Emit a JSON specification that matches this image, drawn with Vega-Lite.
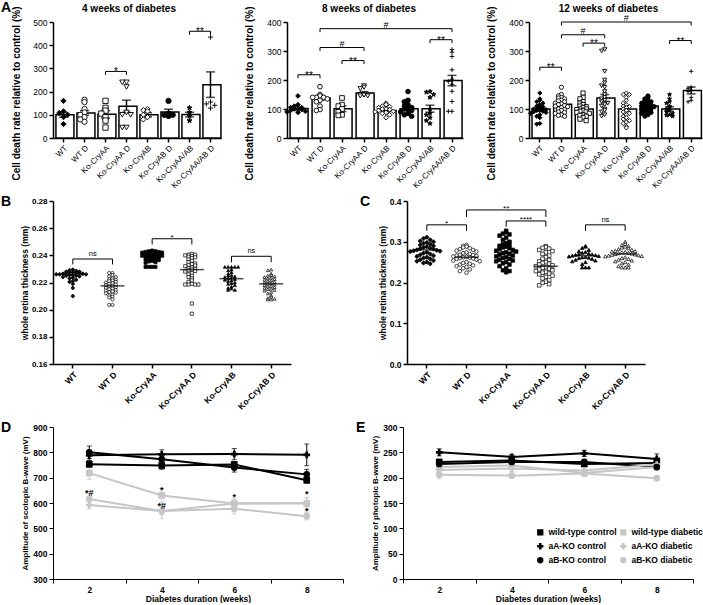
{
"$schema":"https://vega.github.io/schema/vega-lite/v6.json",
"padding":{"left":1,"top":1,"right":0,"bottom":0},
"config":{
 "font":"Liberation Sans",
 "view":{"stroke":null},
 "axis":{"grid":false,"domainColor":"black","tickColor":"black","labelColor":"black","titleColor":"black","labelFont":"Liberation Sans","titleFont":"Liberation Sans","titleFontWeight":"bold","labelOverlap":false},
 "title":{"font":"Liberation Sans","color":"black"},
 "legend":{"labelFont":"Liberation Sans"},
 "text":{"font":"Liberation Sans","color":"black"}
},
"datasets":{
"aBars":[
{"p":"4","g":"WT","m":100,"s":10},{"p":"4","g":"WT D","m":108,"s":10},{"p":"4","g":"Ko-CryAA","m":102,"s":16},{"p":"4","g":"Ko-CryAA D","m":137,"s":26},{"p":"4","g":"Ko-CryAB","m":100,"s":9},{"p":"4","g":"Ko-CryAB D","m":112,"s":12},{"p":"4","g":"Ko-CryAA/AB","m":101,"s":10},{"p":"4","g":"Ko-CryAA/AB D","m":230,"s":55},
{"p":"8","g":"WT","m":102,"s":5},{"p":"8","g":"WT D","m":138,"s":8},{"p":"8","g":"Ko-CryAA","m":101,"s":10},{"p":"8","g":"Ko-CryAA D","m":155,"s":5},{"p":"8","g":"Ko-CryAB","m":95,"s":5},{"p":"8","g":"Ko-CryAB D","m":101,"s":6},{"p":"8","g":"Ko-CryAA/AB","m":101,"s":12},{"p":"8","g":"Ko-CryAA/AB D","m":198,"s":18},
{"p":"12","g":"WT","m":100,"s":6},{"p":"12","g":"WT D","m":116,"s":5},{"p":"12","g":"Ko-CryAA","m":100,"s":5},{"p":"12","g":"Ko-CryAA D","m":138,"s":12},{"p":"12","g":"Ko-CryAB","m":100,"s":8},{"p":"12","g":"Ko-CryAB D","m":110,"s":5},{"p":"12","g":"Ko-CryAA/AB","m":100,"s":8},{"p":"12","g":"Ko-CryAA/AB D","m":164,"s":12}
],
"aPts":[
{"p":"4","g":"WT","v":160},{"p":"4","g":"WT","v":115},{"p":"4","g":"WT","v":108},{"p":"4","g":"WT","v":100},{"p":"4","g":"WT","v":90},{"p":"4","g":"WT","v":60},
{"p":"4","g":"WT D","v":165},{"p":"4","g":"WT D","v":155},{"p":"4","g":"WT D","v":125},{"p":"4","g":"WT D","v":110},{"p":"4","g":"WT D","v":100},{"p":"4","g":"WT D","v":90},{"p":"4","g":"WT D","v":80},{"p":"4","g":"WT D","v":70},
{"p":"4","g":"Ko-CryAA","v":160},{"p":"4","g":"Ko-CryAA","v":130},{"p":"4","g":"Ko-CryAA","v":118},{"p":"4","g":"Ko-CryAA","v":105},{"p":"4","g":"Ko-CryAA","v":90},{"p":"4","g":"Ko-CryAA","v":75},{"p":"4","g":"Ko-CryAA","v":45},
{"p":"4","g":"Ko-CryAA D","v":240},{"p":"4","g":"Ko-CryAA D","v":240},{"p":"4","g":"Ko-CryAA D","v":220},{"p":"4","g":"Ko-CryAA D","v":110},{"p":"4","g":"Ko-CryAA D","v":100},{"p":"4","g":"Ko-CryAA D","v":100},{"p":"4","g":"Ko-CryAA D","v":45},{"p":"4","g":"Ko-CryAA D","v":45},
{"p":"4","g":"Ko-CryAB","v":125},{"p":"4","g":"Ko-CryAB","v":120},{"p":"4","g":"Ko-CryAB","v":115},{"p":"4","g":"Ko-CryAB","v":100},{"p":"4","g":"Ko-CryAB","v":90},{"p":"4","g":"Ko-CryAB","v":80},
{"p":"4","g":"Ko-CryAB D","v":160},{"p":"4","g":"Ko-CryAB D","v":105},{"p":"4","g":"Ko-CryAB D","v":100},{"p":"4","g":"Ko-CryAB D","v":100},{"p":"4","g":"Ko-CryAB D","v":95},
{"p":"4","g":"Ko-CryAA/AB","v":130},{"p":"4","g":"Ko-CryAA/AB","v":110},{"p":"4","g":"Ko-CryAA/AB","v":95},{"p":"4","g":"Ko-CryAA/AB","v":75},
{"p":"4","g":"Ko-CryAA/AB D","v":435},{"p":"4","g":"Ko-CryAA/AB D","v":155},{"p":"4","g":"Ko-CryAA/AB D","v":147},{"p":"4","g":"Ko-CryAA/AB D","v":141},{"p":"4","g":"Ko-CryAA/AB D","v":129},
{"p":"8","g":"WT","v":145},{"p":"8","g":"WT","v":115},{"p":"8","g":"WT","v":110},{"p":"8","g":"WT","v":105},{"p":"8","g":"WT","v":105},{"p":"8","g":"WT","v":100},{"p":"8","g":"WT","v":100},{"p":"8","g":"WT","v":98},{"p":"8","g":"WT","v":95},{"p":"8","g":"WT","v":92},{"p":"8","g":"WT","v":90},{"p":"8","g":"WT","v":88},
{"p":"8","g":"WT D","v":177},{"p":"8","g":"WT D","v":150},{"p":"8","g":"WT D","v":145},{"p":"8","g":"WT D","v":140},{"p":"8","g":"WT D","v":140},{"p":"8","g":"WT D","v":140},{"p":"8","g":"WT D","v":135},{"p":"8","g":"WT D","v":130},{"p":"8","g":"WT D","v":125},{"p":"8","g":"WT D","v":110},{"p":"8","g":"WT D","v":98},{"p":"8","g":"WT D","v":95},
{"p":"8","g":"Ko-CryAA","v":138},{"p":"8","g":"Ko-CryAA","v":115},{"p":"8","g":"Ko-CryAA","v":110},{"p":"8","g":"Ko-CryAA","v":100},{"p":"8","g":"Ko-CryAA","v":90},{"p":"8","g":"Ko-CryAA","v":80},{"p":"8","g":"Ko-CryAA","v":78},
{"p":"8","g":"Ko-CryAA D","v":180},{"p":"8","g":"Ko-CryAA D","v":175},{"p":"8","g":"Ko-CryAA D","v":170},{"p":"8","g":"Ko-CryAA D","v":150},{"p":"8","g":"Ko-CryAA D","v":150},{"p":"8","g":"Ko-CryAA D","v":148},{"p":"8","g":"Ko-CryAA D","v":145},{"p":"8","g":"Ko-CryAA D","v":145},
{"p":"8","g":"Ko-CryAB","v":120},{"p":"8","g":"Ko-CryAB","v":115},{"p":"8","g":"Ko-CryAB","v":110},{"p":"8","g":"Ko-CryAB","v":108},{"p":"8","g":"Ko-CryAB","v":105},{"p":"8","g":"Ko-CryAB","v":100},{"p":"8","g":"Ko-CryAB","v":100},{"p":"8","g":"Ko-CryAB","v":98},{"p":"8","g":"Ko-CryAB","v":95},{"p":"8","g":"Ko-CryAB","v":92},{"p":"8","g":"Ko-CryAB","v":90},{"p":"8","g":"Ko-CryAB","v":88},{"p":"8","g":"Ko-CryAB","v":85},{"p":"8","g":"Ko-CryAB","v":80},{"p":"8","g":"Ko-CryAB","v":70},
{"p":"8","g":"Ko-CryAB D","v":160},{"p":"8","g":"Ko-CryAB D","v":130},{"p":"8","g":"Ko-CryAB D","v":125},{"p":"8","g":"Ko-CryAB D","v":115},{"p":"8","g":"Ko-CryAB D","v":110},{"p":"8","g":"Ko-CryAB D","v":105},{"p":"8","g":"Ko-CryAB D","v":100},{"p":"8","g":"Ko-CryAB D","v":100},{"p":"8","g":"Ko-CryAB D","v":95},{"p":"8","g":"Ko-CryAB D","v":90},{"p":"8","g":"Ko-CryAB D","v":85},{"p":"8","g":"Ko-CryAB D","v":80},{"p":"8","g":"Ko-CryAB D","v":75},
{"p":"8","g":"Ko-CryAA/AB","v":160},{"p":"8","g":"Ko-CryAA/AB","v":158},{"p":"8","g":"Ko-CryAA/AB","v":150},{"p":"8","g":"Ko-CryAA/AB","v":140},{"p":"8","g":"Ko-CryAA/AB","v":100},{"p":"8","g":"Ko-CryAA/AB","v":85},{"p":"8","g":"Ko-CryAA/AB","v":80},{"p":"8","g":"Ko-CryAA/AB","v":70},{"p":"8","g":"Ko-CryAA/AB","v":60},{"p":"8","g":"Ko-CryAA/AB","v":50},
{"p":"8","g":"Ko-CryAA/AB D","v":305},{"p":"8","g":"Ko-CryAA/AB D","v":296},{"p":"8","g":"Ko-CryAA/AB D","v":281},{"p":"8","g":"Ko-CryAA/AB D","v":235},{"p":"8","g":"Ko-CryAA/AB D","v":203},{"p":"8","g":"Ko-CryAA/AB D","v":195},{"p":"8","g":"Ko-CryAA/AB D","v":185},{"p":"8","g":"Ko-CryAA/AB D","v":161},{"p":"8","g":"Ko-CryAA/AB D","v":126},{"p":"8","g":"Ko-CryAA/AB D","v":92},{"p":"8","g":"Ko-CryAA/AB D","v":92},
{"p":"12","g":"WT","v":155},{"p":"12","g":"WT","v":135},{"p":"12","g":"WT","v":130},{"p":"12","g":"WT","v":125},{"p":"12","g":"WT","v":120},{"p":"12","g":"WT","v":115},{"p":"12","g":"WT","v":110},{"p":"12","g":"WT","v":108},{"p":"12","g":"WT","v":105},{"p":"12","g":"WT","v":102},{"p":"12","g":"WT","v":100},{"p":"12","g":"WT","v":100},{"p":"12","g":"WT","v":98},{"p":"12","g":"WT","v":95},{"p":"12","g":"WT","v":95},{"p":"12","g":"WT","v":92},{"p":"12","g":"WT","v":90},{"p":"12","g":"WT","v":88},{"p":"12","g":"WT","v":85},{"p":"12","g":"WT","v":80},{"p":"12","g":"WT","v":75},{"p":"12","g":"WT","v":70},{"p":"12","g":"WT","v":50},{"p":"12","g":"WT","v":48},
{"p":"12","g":"WT D","v":175},{"p":"12","g":"WT D","v":150},{"p":"12","g":"WT D","v":145},{"p":"12","g":"WT D","v":140},{"p":"12","g":"WT D","v":138},{"p":"12","g":"WT D","v":135},{"p":"12","g":"WT D","v":130},{"p":"12","g":"WT D","v":128},{"p":"12","g":"WT D","v":125},{"p":"12","g":"WT D","v":120},{"p":"12","g":"WT D","v":118},{"p":"12","g":"WT D","v":115},{"p":"12","g":"WT D","v":112},{"p":"12","g":"WT D","v":110},{"p":"12","g":"WT D","v":108},{"p":"12","g":"WT D","v":105},{"p":"12","g":"WT D","v":100},{"p":"12","g":"WT D","v":98},{"p":"12","g":"WT D","v":95},{"p":"12","g":"WT D","v":90},{"p":"12","g":"WT D","v":88},{"p":"12","g":"WT D","v":85},{"p":"12","g":"WT D","v":80},{"p":"12","g":"WT D","v":78},{"p":"12","g":"WT D","v":75},
{"p":"12","g":"Ko-CryAA","v":155},{"p":"12","g":"Ko-CryAA","v":140},{"p":"12","g":"Ko-CryAA","v":135},{"p":"12","g":"Ko-CryAA","v":125},{"p":"12","g":"Ko-CryAA","v":120},{"p":"12","g":"Ko-CryAA","v":115},{"p":"12","g":"Ko-CryAA","v":110},{"p":"12","g":"Ko-CryAA","v":108},{"p":"12","g":"Ko-CryAA","v":105},{"p":"12","g":"Ko-CryAA","v":100},{"p":"12","g":"Ko-CryAA","v":100},{"p":"12","g":"Ko-CryAA","v":98},{"p":"12","g":"Ko-CryAA","v":95},{"p":"12","g":"Ko-CryAA","v":92},{"p":"12","g":"Ko-CryAA","v":90},{"p":"12","g":"Ko-CryAA","v":88},{"p":"12","g":"Ko-CryAA","v":85},{"p":"12","g":"Ko-CryAA","v":80},{"p":"12","g":"Ko-CryAA","v":78},{"p":"12","g":"Ko-CryAA","v":75},{"p":"12","g":"Ko-CryAA","v":70},{"p":"12","g":"Ko-CryAA","v":65},{"p":"12","g":"Ko-CryAA","v":60},
{"p":"12","g":"Ko-CryAA D","v":305},{"p":"12","g":"Ko-CryAA D","v":300},{"p":"12","g":"Ko-CryAA D","v":230},{"p":"12","g":"Ko-CryAA D","v":200},{"p":"12","g":"Ko-CryAA D","v":190},{"p":"12","g":"Ko-CryAA D","v":180},{"p":"12","g":"Ko-CryAA D","v":175},{"p":"12","g":"Ko-CryAA D","v":160},{"p":"12","g":"Ko-CryAA D","v":150},{"p":"12","g":"Ko-CryAA D","v":140},{"p":"12","g":"Ko-CryAA D","v":135},{"p":"12","g":"Ko-CryAA D","v":130},{"p":"12","g":"Ko-CryAA D","v":125},{"p":"12","g":"Ko-CryAA D","v":120},{"p":"12","g":"Ko-CryAA D","v":115},{"p":"12","g":"Ko-CryAA D","v":110},{"p":"12","g":"Ko-CryAA D","v":100},{"p":"12","g":"Ko-CryAA D","v":95},{"p":"12","g":"Ko-CryAA D","v":90},{"p":"12","g":"Ko-CryAA D","v":80},{"p":"12","g":"Ko-CryAA D","v":75},
{"p":"12","g":"Ko-CryAB","v":155},{"p":"12","g":"Ko-CryAB","v":150},{"p":"12","g":"Ko-CryAB","v":150},{"p":"12","g":"Ko-CryAB","v":140},{"p":"12","g":"Ko-CryAB","v":130},{"p":"12","g":"Ko-CryAB","v":120},{"p":"12","g":"Ko-CryAB","v":115},{"p":"12","g":"Ko-CryAB","v":110},{"p":"12","g":"Ko-CryAB","v":108},{"p":"12","g":"Ko-CryAB","v":105},{"p":"12","g":"Ko-CryAB","v":100},{"p":"12","g":"Ko-CryAB","v":95},{"p":"12","g":"Ko-CryAB","v":90},{"p":"12","g":"Ko-CryAB","v":85},{"p":"12","g":"Ko-CryAB","v":80},{"p":"12","g":"Ko-CryAB","v":75},{"p":"12","g":"Ko-CryAB","v":70},{"p":"12","g":"Ko-CryAB","v":65},{"p":"12","g":"Ko-CryAB","v":60},{"p":"12","g":"Ko-CryAB","v":55},{"p":"12","g":"Ko-CryAB","v":50},{"p":"12","g":"Ko-CryAB","v":40},{"p":"12","g":"Ko-CryAB","v":35},
{"p":"12","g":"Ko-CryAB D","v":145},{"p":"12","g":"Ko-CryAB D","v":140},{"p":"12","g":"Ko-CryAB D","v":135},{"p":"12","g":"Ko-CryAB D","v":130},{"p":"12","g":"Ko-CryAB D","v":128},{"p":"12","g":"Ko-CryAB D","v":125},{"p":"12","g":"Ko-CryAB D","v":120},{"p":"12","g":"Ko-CryAB D","v":118},{"p":"12","g":"Ko-CryAB D","v":115},{"p":"12","g":"Ko-CryAB D","v":112},{"p":"12","g":"Ko-CryAB D","v":110},{"p":"12","g":"Ko-CryAB D","v":108},{"p":"12","g":"Ko-CryAB D","v":105},{"p":"12","g":"Ko-CryAB D","v":102},{"p":"12","g":"Ko-CryAB D","v":100},{"p":"12","g":"Ko-CryAB D","v":98},{"p":"12","g":"Ko-CryAB D","v":95},{"p":"12","g":"Ko-CryAB D","v":90},{"p":"12","g":"Ko-CryAB D","v":88},{"p":"12","g":"Ko-CryAB D","v":85},{"p":"12","g":"Ko-CryAB D","v":80},{"p":"12","g":"Ko-CryAB D","v":75},
{"p":"12","g":"Ko-CryAA/AB","v":150},{"p":"12","g":"Ko-CryAA/AB","v":135},{"p":"12","g":"Ko-CryAA/AB","v":125},{"p":"12","g":"Ko-CryAA/AB","v":120},{"p":"12","g":"Ko-CryAA/AB","v":110},{"p":"12","g":"Ko-CryAA/AB","v":105},{"p":"12","g":"Ko-CryAA/AB","v":100},{"p":"12","g":"Ko-CryAA/AB","v":95},{"p":"12","g":"Ko-CryAA/AB","v":90},{"p":"12","g":"Ko-CryAA/AB","v":85},{"p":"12","g":"Ko-CryAA/AB","v":80},{"p":"12","g":"Ko-CryAA/AB","v":78},{"p":"12","g":"Ko-CryAA/AB","v":75},
{"p":"12","g":"Ko-CryAA/AB D","v":230},{"p":"12","g":"Ko-CryAA/AB D","v":175},{"p":"12","g":"Ko-CryAA/AB D","v":170},{"p":"12","g":"Ko-CryAA/AB D","v":165},{"p":"12","g":"Ko-CryAA/AB D","v":160},{"p":"12","g":"Ko-CryAA/AB D","v":140},{"p":"12","g":"Ko-CryAA/AB D","v":130},{"p":"12","g":"Ko-CryAA/AB D","v":125}
],
"aBr":[
{"p":"4","a":"Ko-CryAA","b":"Ko-CryAA D","y":287,"yl":272,"t":"*","m":"Ko-CryAA","e":1},
{"p":"4","a":"Ko-CryAA/AB","b":"Ko-CryAA/AB D","y":460,"yl":445,"t":"**","m":"Ko-CryAA/AB","e":1},
{"p":"8","a":"WT","b":"WT D","y":218,"yl":206,"t":"**","m":"WT","e":1},
{"p":"8","a":"Ko-CryAA","b":"Ko-CryAA D","y":267,"yl":255,"t":"**","m":"Ko-CryAA","e":1},
{"p":"8","a":"WT D","b":"Ko-CryAA D","y":312,"yl":300,"t":"#","m":"Ko-CryAA","e":0},
{"p":"8","a":"Ko-CryAA/AB","b":"Ko-CryAA/AB D","y":339,"yl":327,"t":"**","m":"Ko-CryAA/AB","e":1},
{"p":"8","a":"WT D","b":"Ko-CryAA/AB D","y":377,"yl":365,"t":"#","m":"Ko-CryAB","e":0},
{"p":"12","a":"WT","b":"WT D","y":244,"yl":232,"t":"**","m":"WT","e":1},
{"p":"12","a":"Ko-CryAA","b":"Ko-CryAA D","y":327,"yl":315,"t":"**","m":"Ko-CryAA","e":1},
{"p":"12","a":"WT D","b":"Ko-CryAA D","y":356,"yl":344,"t":"#","m":"Ko-CryAA","e":0},
{"p":"12","a":"Ko-CryAA/AB","b":"Ko-CryAA/AB D","y":336,"yl":324,"t":"**","m":"Ko-CryAA/AB","e":1},
{"p":"12","a":"WT D","b":"Ko-CryAA/AB D","y":400,"yl":388,"t":"#","m":"Ko-CryAB","e":0}
],
"bcPts":[
{"p":"B","g":"WT","v":0.2295},{"p":"B","g":"WT","v":0.229},{"p":"B","g":"WT","v":0.2285},{"p":"B","g":"WT","v":0.228},{"p":"B","g":"WT","v":0.228},{"p":"B","g":"WT","v":0.2275},{"p":"B","g":"WT","v":0.2275},{"p":"B","g":"WT","v":0.227},{"p":"B","g":"WT","v":0.227},{"p":"B","g":"WT","v":0.227},{"p":"B","g":"WT","v":0.2265},{"p":"B","g":"WT","v":0.2265},{"p":"B","g":"WT","v":0.226},{"p":"B","g":"WT","v":0.226},{"p":"B","g":"WT","v":0.226},{"p":"B","g":"WT","v":0.2255},{"p":"B","g":"WT","v":0.2255},{"p":"B","g":"WT","v":0.225},{"p":"B","g":"WT","v":0.225},{"p":"B","g":"WT","v":0.2245},{"p":"B","g":"WT","v":0.224},{"p":"B","g":"WT","v":0.2235},{"p":"B","g":"WT","v":0.223},{"p":"B","g":"WT","v":0.222},{"p":"B","g":"WT","v":0.221},{"p":"B","g":"WT","v":0.2205},{"p":"B","g":"WT","v":0.219},{"p":"B","g":"WT","v":0.216},{"p":"B","g":"WT","v":0.21},
{"p":"B","g":"WT D","v":0.227},{"p":"B","g":"WT D","v":0.227},{"p":"B","g":"WT D","v":0.2255},{"p":"B","g":"WT D","v":0.2245},{"p":"B","g":"WT D","v":0.224},{"p":"B","g":"WT D","v":0.223},{"p":"B","g":"WT D","v":0.2225},{"p":"B","g":"WT D","v":0.222},{"p":"B","g":"WT D","v":0.2215},{"p":"B","g":"WT D","v":0.221},{"p":"B","g":"WT D","v":0.2205},{"p":"B","g":"WT D","v":0.22},{"p":"B","g":"WT D","v":0.2195},{"p":"B","g":"WT D","v":0.219},{"p":"B","g":"WT D","v":0.2185},{"p":"B","g":"WT D","v":0.218},{"p":"B","g":"WT D","v":0.2175},{"p":"B","g":"WT D","v":0.217},{"p":"B","g":"WT D","v":0.2165},{"p":"B","g":"WT D","v":0.216},{"p":"B","g":"WT D","v":0.2155},{"p":"B","g":"WT D","v":0.215},{"p":"B","g":"WT D","v":0.2145},{"p":"B","g":"WT D","v":0.214},{"p":"B","g":"WT D","v":0.2135},{"p":"B","g":"WT D","v":0.213},{"p":"B","g":"WT D","v":0.2125},{"p":"B","g":"WT D","v":0.212},{"p":"B","g":"WT D","v":0.211},{"p":"B","g":"WT D","v":0.2105},{"p":"B","g":"WT D","v":0.2095},{"p":"B","g":"WT D","v":0.209},{"p":"B","g":"WT D","v":0.2075},{"p":"B","g":"WT D","v":0.2035},{"p":"B","g":"WT D","v":0.2035},
{"p":"B","g":"Ko-CryAA","v":0.2435},{"p":"B","g":"Ko-CryAA","v":0.243},{"p":"B","g":"Ko-CryAA","v":0.243},{"p":"B","g":"Ko-CryAA","v":0.2425},{"p":"B","g":"Ko-CryAA","v":0.2425},{"p":"B","g":"Ko-CryAA","v":0.242},{"p":"B","g":"Ko-CryAA","v":0.242},{"p":"B","g":"Ko-CryAA","v":0.2415},{"p":"B","g":"Ko-CryAA","v":0.241},{"p":"B","g":"Ko-CryAA","v":0.241},{"p":"B","g":"Ko-CryAA","v":0.2405},{"p":"B","g":"Ko-CryAA","v":0.2405},{"p":"B","g":"Ko-CryAA","v":0.24},{"p":"B","g":"Ko-CryAA","v":0.24},{"p":"B","g":"Ko-CryAA","v":0.2395},{"p":"B","g":"Ko-CryAA","v":0.2395},{"p":"B","g":"Ko-CryAA","v":0.239},{"p":"B","g":"Ko-CryAA","v":0.239},{"p":"B","g":"Ko-CryAA","v":0.2385},{"p":"B","g":"Ko-CryAA","v":0.238},{"p":"B","g":"Ko-CryAA","v":0.238},{"p":"B","g":"Ko-CryAA","v":0.2375},{"p":"B","g":"Ko-CryAA","v":0.237},{"p":"B","g":"Ko-CryAA","v":0.2365},{"p":"B","g":"Ko-CryAA","v":0.236},{"p":"B","g":"Ko-CryAA","v":0.2355},{"p":"B","g":"Ko-CryAA","v":0.235},{"p":"B","g":"Ko-CryAA","v":0.2345},{"p":"B","g":"Ko-CryAA","v":0.2315},{"p":"B","g":"Ko-CryAA","v":0.2315},{"p":"B","g":"Ko-CryAA","v":0.2315},{"p":"B","g":"Ko-CryAA","v":0.2315},
{"p":"B","g":"Ko-CryAA D","v":0.241},{"p":"B","g":"Ko-CryAA D","v":0.2405},{"p":"B","g":"Ko-CryAA D","v":0.2405},{"p":"B","g":"Ko-CryAA D","v":0.24},{"p":"B","g":"Ko-CryAA D","v":0.2395},{"p":"B","g":"Ko-CryAA D","v":0.239},{"p":"B","g":"Ko-CryAA D","v":0.2385},{"p":"B","g":"Ko-CryAA D","v":0.238},{"p":"B","g":"Ko-CryAA D","v":0.237},{"p":"B","g":"Ko-CryAA D","v":0.236},{"p":"B","g":"Ko-CryAA D","v":0.235},{"p":"B","g":"Ko-CryAA D","v":0.234},{"p":"B","g":"Ko-CryAA D","v":0.2335},{"p":"B","g":"Ko-CryAA D","v":0.233},{"p":"B","g":"Ko-CryAA D","v":0.2325},{"p":"B","g":"Ko-CryAA D","v":0.232},{"p":"B","g":"Ko-CryAA D","v":0.231},{"p":"B","g":"Ko-CryAA D","v":0.2305},{"p":"B","g":"Ko-CryAA D","v":0.23},{"p":"B","g":"Ko-CryAA D","v":0.2295},{"p":"B","g":"Ko-CryAA D","v":0.229},{"p":"B","g":"Ko-CryAA D","v":0.2285},{"p":"B","g":"Ko-CryAA D","v":0.228},{"p":"B","g":"Ko-CryAA D","v":0.227},{"p":"B","g":"Ko-CryAA D","v":0.226},{"p":"B","g":"Ko-CryAA D","v":0.225},{"p":"B","g":"Ko-CryAA D","v":0.224},{"p":"B","g":"Ko-CryAA D","v":0.223},{"p":"B","g":"Ko-CryAA D","v":0.2215},{"p":"B","g":"Ko-CryAA D","v":0.2205},{"p":"B","g":"Ko-CryAA D","v":0.219},{"p":"B","g":"Ko-CryAA D","v":0.2185},{"p":"B","g":"Ko-CryAA D","v":0.2185},{"p":"B","g":"Ko-CryAA D","v":0.2185},{"p":"B","g":"Ko-CryAA D","v":0.2185},{"p":"B","g":"Ko-CryAA D","v":0.2045},{"p":"B","g":"Ko-CryAA D","v":0.197},
{"p":"B","g":"Ko-CryAB","v":0.2315},{"p":"B","g":"Ko-CryAB","v":0.2315},{"p":"B","g":"Ko-CryAB","v":0.2315},{"p":"B","g":"Ko-CryAB","v":0.2315},{"p":"B","g":"Ko-CryAB","v":0.2315},{"p":"B","g":"Ko-CryAB","v":0.2295},{"p":"B","g":"Ko-CryAB","v":0.229},{"p":"B","g":"Ko-CryAB","v":0.2275},{"p":"B","g":"Ko-CryAB","v":0.2265},{"p":"B","g":"Ko-CryAB","v":0.2255},{"p":"B","g":"Ko-CryAB","v":0.225},{"p":"B","g":"Ko-CryAB","v":0.2245},{"p":"B","g":"Ko-CryAB","v":0.224},{"p":"B","g":"Ko-CryAB","v":0.2235},{"p":"B","g":"Ko-CryAB","v":0.223},{"p":"B","g":"Ko-CryAB","v":0.2225},{"p":"B","g":"Ko-CryAB","v":0.222},{"p":"B","g":"Ko-CryAB","v":0.2215},{"p":"B","g":"Ko-CryAB","v":0.221},{"p":"B","g":"Ko-CryAB","v":0.22},{"p":"B","g":"Ko-CryAB","v":0.2195},{"p":"B","g":"Ko-CryAB","v":0.219},{"p":"B","g":"Ko-CryAB","v":0.218},{"p":"B","g":"Ko-CryAB","v":0.217},{"p":"B","g":"Ko-CryAB","v":0.216},{"p":"B","g":"Ko-CryAB","v":0.2155},{"p":"B","g":"Ko-CryAB","v":0.2145},{"p":"B","g":"Ko-CryAB","v":0.2145},
{"p":"B","g":"Ko-CryAB D","v":0.2295},{"p":"B","g":"Ko-CryAB D","v":0.229},{"p":"B","g":"Ko-CryAB D","v":0.2265},{"p":"B","g":"Ko-CryAB D","v":0.2255},{"p":"B","g":"Ko-CryAB D","v":0.225},{"p":"B","g":"Ko-CryAB D","v":0.2245},{"p":"B","g":"Ko-CryAB D","v":0.224},{"p":"B","g":"Ko-CryAB D","v":0.2235},{"p":"B","g":"Ko-CryAB D","v":0.223},{"p":"B","g":"Ko-CryAB D","v":0.2225},{"p":"B","g":"Ko-CryAB D","v":0.222},{"p":"B","g":"Ko-CryAB D","v":0.2215},{"p":"B","g":"Ko-CryAB D","v":0.221},{"p":"B","g":"Ko-CryAB D","v":0.2205},{"p":"B","g":"Ko-CryAB D","v":0.22},{"p":"B","g":"Ko-CryAB D","v":0.2195},{"p":"B","g":"Ko-CryAB D","v":0.219},{"p":"B","g":"Ko-CryAB D","v":0.2185},{"p":"B","g":"Ko-CryAB D","v":0.218},{"p":"B","g":"Ko-CryAB D","v":0.2175},{"p":"B","g":"Ko-CryAB D","v":0.217},{"p":"B","g":"Ko-CryAB D","v":0.2165},{"p":"B","g":"Ko-CryAB D","v":0.216},{"p":"B","g":"Ko-CryAB D","v":0.2155},{"p":"B","g":"Ko-CryAB D","v":0.215},{"p":"B","g":"Ko-CryAB D","v":0.2145},{"p":"B","g":"Ko-CryAB D","v":0.214},{"p":"B","g":"Ko-CryAB D","v":0.213},{"p":"B","g":"Ko-CryAB D","v":0.212},{"p":"B","g":"Ko-CryAB D","v":0.2105},{"p":"B","g":"Ko-CryAB D","v":0.2095},{"p":"B","g":"Ko-CryAB D","v":0.2085},{"p":"B","g":"Ko-CryAB D","v":0.208},{"p":"B","g":"Ko-CryAB D","v":0.2075},{"p":"B","g":"Ko-CryAB D","v":0.2075},
{"p":"C","g":"WT","v":0.311},{"p":"C","g":"WT","v":0.308},{"p":"C","g":"WT","v":0.305},{"p":"C","g":"WT","v":0.302},{"p":"C","g":"WT","v":0.3},{"p":"C","g":"WT","v":0.298},{"p":"C","g":"WT","v":0.296},{"p":"C","g":"WT","v":0.294},{"p":"C","g":"WT","v":0.292},{"p":"C","g":"WT","v":0.29},{"p":"C","g":"WT","v":0.288},{"p":"C","g":"WT","v":0.286},{"p":"C","g":"WT","v":0.284},{"p":"C","g":"WT","v":0.283},{"p":"C","g":"WT","v":0.282},{"p":"C","g":"WT","v":0.28},{"p":"C","g":"WT","v":0.279},{"p":"C","g":"WT","v":0.278},{"p":"C","g":"WT","v":0.277},{"p":"C","g":"WT","v":0.276},{"p":"C","g":"WT","v":0.274},{"p":"C","g":"WT","v":0.272},{"p":"C","g":"WT","v":0.27},{"p":"C","g":"WT","v":0.268},{"p":"C","g":"WT","v":0.266},{"p":"C","g":"WT","v":0.264},{"p":"C","g":"WT","v":0.262},{"p":"C","g":"WT","v":0.26},{"p":"C","g":"WT","v":0.258},{"p":"C","g":"WT","v":0.256},{"p":"C","g":"WT","v":0.254},{"p":"C","g":"WT","v":0.252},{"p":"C","g":"WT","v":0.25},{"p":"C","g":"WT","v":0.248},{"p":"C","g":"WT","v":0.246},
{"p":"C","g":"WT D","v":0.292},{"p":"C","g":"WT D","v":0.29},{"p":"C","g":"WT D","v":0.288},{"p":"C","g":"WT D","v":0.286},{"p":"C","g":"WT D","v":0.284},{"p":"C","g":"WT D","v":0.282},{"p":"C","g":"WT D","v":0.28},{"p":"C","g":"WT D","v":0.278},{"p":"C","g":"WT D","v":0.276},{"p":"C","g":"WT D","v":0.274},{"p":"C","g":"WT D","v":0.272},{"p":"C","g":"WT D","v":0.27},{"p":"C","g":"WT D","v":0.268},{"p":"C","g":"WT D","v":0.267},{"p":"C","g":"WT D","v":0.266},{"p":"C","g":"WT D","v":0.265},{"p":"C","g":"WT D","v":0.264},{"p":"C","g":"WT D","v":0.263},{"p":"C","g":"WT D","v":0.262},{"p":"C","g":"WT D","v":0.261},{"p":"C","g":"WT D","v":0.26},{"p":"C","g":"WT D","v":0.259},{"p":"C","g":"WT D","v":0.258},{"p":"C","g":"WT D","v":0.256},{"p":"C","g":"WT D","v":0.254},{"p":"C","g":"WT D","v":0.252},{"p":"C","g":"WT D","v":0.25},{"p":"C","g":"WT D","v":0.248},{"p":"C","g":"WT D","v":0.246},{"p":"C","g":"WT D","v":0.244},{"p":"C","g":"WT D","v":0.242},{"p":"C","g":"WT D","v":0.24},{"p":"C","g":"WT D","v":0.238},{"p":"C","g":"WT D","v":0.235},{"p":"C","g":"WT D","v":0.232},{"p":"C","g":"WT D","v":0.228},{"p":"C","g":"WT D","v":0.224},
{"p":"C","g":"Ko-CryAA","v":0.327},{"p":"C","g":"Ko-CryAA","v":0.323},{"p":"C","g":"Ko-CryAA","v":0.32},{"p":"C","g":"Ko-CryAA","v":0.318},{"p":"C","g":"Ko-CryAA","v":0.315},{"p":"C","g":"Ko-CryAA","v":0.31},{"p":"C","g":"Ko-CryAA","v":0.305},{"p":"C","g":"Ko-CryAA","v":0.3},{"p":"C","g":"Ko-CryAA","v":0.297},{"p":"C","g":"Ko-CryAA","v":0.294},{"p":"C","g":"Ko-CryAA","v":0.292},{"p":"C","g":"Ko-CryAA","v":0.29},{"p":"C","g":"Ko-CryAA","v":0.288},{"p":"C","g":"Ko-CryAA","v":0.286},{"p":"C","g":"Ko-CryAA","v":0.284},{"p":"C","g":"Ko-CryAA","v":0.282},{"p":"C","g":"Ko-CryAA","v":0.28},{"p":"C","g":"Ko-CryAA","v":0.278},{"p":"C","g":"Ko-CryAA","v":0.276},{"p":"C","g":"Ko-CryAA","v":0.274},{"p":"C","g":"Ko-CryAA","v":0.272},{"p":"C","g":"Ko-CryAA","v":0.27},{"p":"C","g":"Ko-CryAA","v":0.268},{"p":"C","g":"Ko-CryAA","v":0.266},{"p":"C","g":"Ko-CryAA","v":0.264},{"p":"C","g":"Ko-CryAA","v":0.262},{"p":"C","g":"Ko-CryAA","v":0.26},{"p":"C","g":"Ko-CryAA","v":0.258},{"p":"C","g":"Ko-CryAA","v":0.256},{"p":"C","g":"Ko-CryAA","v":0.254},{"p":"C","g":"Ko-CryAA","v":0.252},{"p":"C","g":"Ko-CryAA","v":0.25},{"p":"C","g":"Ko-CryAA","v":0.247},{"p":"C","g":"Ko-CryAA","v":0.244},{"p":"C","g":"Ko-CryAA","v":0.24},{"p":"C","g":"Ko-CryAA","v":0.235},{"p":"C","g":"Ko-CryAA","v":0.23},{"p":"C","g":"Ko-CryAA","v":0.228},{"p":"C","g":"Ko-CryAA","v":0.225},
{"p":"C","g":"Ko-CryAA D","v":0.289},{"p":"C","g":"Ko-CryAA D","v":0.287},{"p":"C","g":"Ko-CryAA D","v":0.285},{"p":"C","g":"Ko-CryAA D","v":0.283},{"p":"C","g":"Ko-CryAA D","v":0.28},{"p":"C","g":"Ko-CryAA D","v":0.277},{"p":"C","g":"Ko-CryAA D","v":0.274},{"p":"C","g":"Ko-CryAA D","v":0.27},{"p":"C","g":"Ko-CryAA D","v":0.266},{"p":"C","g":"Ko-CryAA D","v":0.262},{"p":"C","g":"Ko-CryAA D","v":0.258},{"p":"C","g":"Ko-CryAA D","v":0.255},{"p":"C","g":"Ko-CryAA D","v":0.252},{"p":"C","g":"Ko-CryAA D","v":0.25},{"p":"C","g":"Ko-CryAA D","v":0.248},{"p":"C","g":"Ko-CryAA D","v":0.246},{"p":"C","g":"Ko-CryAA D","v":0.244},{"p":"C","g":"Ko-CryAA D","v":0.242},{"p":"C","g":"Ko-CryAA D","v":0.24},{"p":"C","g":"Ko-CryAA D","v":0.238},{"p":"C","g":"Ko-CryAA D","v":0.236},{"p":"C","g":"Ko-CryAA D","v":0.234},{"p":"C","g":"Ko-CryAA D","v":0.232},{"p":"C","g":"Ko-CryAA D","v":0.23},{"p":"C","g":"Ko-CryAA D","v":0.228},{"p":"C","g":"Ko-CryAA D","v":0.226},{"p":"C","g":"Ko-CryAA D","v":0.224},{"p":"C","g":"Ko-CryAA D","v":0.222},{"p":"C","g":"Ko-CryAA D","v":0.22},{"p":"C","g":"Ko-CryAA D","v":0.217},{"p":"C","g":"Ko-CryAA D","v":0.214},{"p":"C","g":"Ko-CryAA D","v":0.21},{"p":"C","g":"Ko-CryAA D","v":0.206},{"p":"C","g":"Ko-CryAA D","v":0.202},{"p":"C","g":"Ko-CryAA D","v":0.199},{"p":"C","g":"Ko-CryAA D","v":0.196},{"p":"C","g":"Ko-CryAA D","v":0.193},
{"p":"C","g":"Ko-CryAB","v":0.29},{"p":"C","g":"Ko-CryAB","v":0.288},{"p":"C","g":"Ko-CryAB","v":0.285},{"p":"C","g":"Ko-CryAB","v":0.28},{"p":"C","g":"Ko-CryAB","v":0.277},{"p":"C","g":"Ko-CryAB","v":0.275},{"p":"C","g":"Ko-CryAB","v":0.273},{"p":"C","g":"Ko-CryAB","v":0.271},{"p":"C","g":"Ko-CryAB","v":0.27},{"p":"C","g":"Ko-CryAB","v":0.269},{"p":"C","g":"Ko-CryAB","v":0.268},{"p":"C","g":"Ko-CryAB","v":0.267},{"p":"C","g":"Ko-CryAB","v":0.266},{"p":"C","g":"Ko-CryAB","v":0.265},{"p":"C","g":"Ko-CryAB","v":0.264},{"p":"C","g":"Ko-CryAB","v":0.263},{"p":"C","g":"Ko-CryAB","v":0.262},{"p":"C","g":"Ko-CryAB","v":0.261},{"p":"C","g":"Ko-CryAB","v":0.26},{"p":"C","g":"Ko-CryAB","v":0.258},{"p":"C","g":"Ko-CryAB","v":0.256},{"p":"C","g":"Ko-CryAB","v":0.254},{"p":"C","g":"Ko-CryAB","v":0.252},{"p":"C","g":"Ko-CryAB","v":0.25},{"p":"C","g":"Ko-CryAB","v":0.245},{"p":"C","g":"Ko-CryAB","v":0.237},{"p":"C","g":"Ko-CryAB","v":0.237},{"p":"C","g":"Ko-CryAB","v":0.237},
{"p":"C","g":"Ko-CryAB D","v":0.3},{"p":"C","g":"Ko-CryAB D","v":0.295},{"p":"C","g":"Ko-CryAB D","v":0.292},{"p":"C","g":"Ko-CryAB D","v":0.29},{"p":"C","g":"Ko-CryAB D","v":0.288},{"p":"C","g":"Ko-CryAB D","v":0.286},{"p":"C","g":"Ko-CryAB D","v":0.284},{"p":"C","g":"Ko-CryAB D","v":0.282},{"p":"C","g":"Ko-CryAB D","v":0.28},{"p":"C","g":"Ko-CryAB D","v":0.278},{"p":"C","g":"Ko-CryAB D","v":0.277},{"p":"C","g":"Ko-CryAB D","v":0.276},{"p":"C","g":"Ko-CryAB D","v":0.275},{"p":"C","g":"Ko-CryAB D","v":0.274},{"p":"C","g":"Ko-CryAB D","v":0.273},{"p":"C","g":"Ko-CryAB D","v":0.272},{"p":"C","g":"Ko-CryAB D","v":0.271},{"p":"C","g":"Ko-CryAB D","v":0.27},{"p":"C","g":"Ko-CryAB D","v":0.269},{"p":"C","g":"Ko-CryAB D","v":0.268},{"p":"C","g":"Ko-CryAB D","v":0.267},{"p":"C","g":"Ko-CryAB D","v":0.266},{"p":"C","g":"Ko-CryAB D","v":0.265},{"p":"C","g":"Ko-CryAB D","v":0.264},{"p":"C","g":"Ko-CryAB D","v":0.262},{"p":"C","g":"Ko-CryAB D","v":0.26},{"p":"C","g":"Ko-CryAB D","v":0.258},{"p":"C","g":"Ko-CryAB D","v":0.256},{"p":"C","g":"Ko-CryAB D","v":0.254},{"p":"C","g":"Ko-CryAB D","v":0.252},{"p":"C","g":"Ko-CryAB D","v":0.25},{"p":"C","g":"Ko-CryAB D","v":0.247},{"p":"C","g":"Ko-CryAB D","v":0.244},{"p":"C","g":"Ko-CryAB D","v":0.24},{"p":"C","g":"Ko-CryAB D","v":0.237},{"p":"C","g":"Ko-CryAB D","v":0.237},{"p":"C","g":"Ko-CryAB D","v":0.237}
],
"bcMean":[
{"p":"B","g":"WT","m":0.2258},{"p":"B","g":"WT D","m":0.2175},{"p":"B","g":"Ko-CryAA","m":0.2388},{"p":"B","g":"Ko-CryAA D","m":0.2295},{"p":"B","g":"Ko-CryAB","m":0.2228},{"p":"B","g":"Ko-CryAB D","m":0.219},
{"p":"C","g":"WT","m":0.28},{"p":"C","g":"WT D","m":0.262},{"p":"C","g":"Ko-CryAA","m":0.274},{"p":"C","g":"Ko-CryAA D","m":0.24},{"p":"C","g":"Ko-CryAB","m":0.266},{"p":"C","g":"Ko-CryAB D","m":0.27}
],
"bcBr":[
{"p":"B","a":"WT","b":"WT D","y":0.2373,"yl":0.2333,"t":"ns","m":"WT","e":1},
{"p":"B","a":"Ko-CryAA","b":"Ko-CryAA D","y":0.2522,"yl":0.248,"t":"*","m":"Ko-CryAA","e":1},
{"p":"B","a":"Ko-CryAB","b":"Ko-CryAB D","y":0.2393,"yl":0.2349,"t":"ns","m":"Ko-CryAB","e":1},
{"p":"C","a":"WT","b":"WT D","y":0.3415,"yl":0.327,"t":"*","m":"WT","e":1},
{"p":"C","a":"WT D","b":"Ko-CryAA D","y":0.378,"yl":0.361,"t":"**","m":"Ko-CryAA","e":0},
{"p":"C","a":"Ko-CryAA","b":"Ko-CryAA D","y":0.351,"yl":0.337,"t":"****","m":"Ko-CryAA","e":1},
{"p":"C","a":"Ko-CryAB","b":"Ko-CryAB D","y":0.3415,"yl":0.327,"t":"ns","m":"Ko-CryAB","e":1}
],
"erg":[
{"pn":"D","s":"wild-type control","c":"control","w":2,"v":753,"e":12},{"pn":"D","s":"wild-type control","c":"control","w":4,"v":748,"e":15},{"pn":"D","s":"wild-type control","c":"control","w":6,"v":752,"e":12},{"pn":"D","s":"wild-type control","c":"control","w":8,"v":690,"e":12},
{"pn":"D","s":"wild-type diabetic","c":"diabetic","w":2,"v":718,"e":25},{"pn":"D","s":"wild-type diabetic","c":"diabetic","w":4,"v":630,"e":28},{"pn":"D","s":"wild-type diabetic","c":"diabetic","w":6,"v":598,"e":20},{"pn":"D","s":"wild-type diabetic","c":"diabetic","w":8,"v":598,"e":25},
{"pn":"D","s":"aA-KO control","c":"control","w":2,"v":788,"e":20},{"pn":"D","s":"aA-KO control","c":"control","w":4,"v":792,"e":18},{"pn":"D","s":"aA-KO control","c":"control","w":6,"v":793,"e":22},{"pn":"D","s":"aA-KO control","c":"control","w":8,"v":790,"e":43},
{"pn":"D","s":"aA-KO diabetic","c":"diabetic","w":2,"v":592,"e":15},{"pn":"D","s":"aA-KO diabetic","c":"diabetic","w":4,"v":568,"e":30},{"pn":"D","s":"aA-KO diabetic","c":"diabetic","w":6,"v":598,"e":15},{"pn":"D","s":"aA-KO diabetic","c":"diabetic","w":8,"v":600,"e":20},
{"pn":"D","s":"aB-KO control","c":"control","w":2,"v":800,"e":25},{"pn":"D","s":"aB-KO control","c":"control","w":4,"v":773,"e":20},{"pn":"D","s":"aB-KO control","c":"control","w":6,"v":740,"e":18},{"pn":"D","s":"aB-KO control","c":"control","w":8,"v":713,"e":20},
{"pn":"D","s":"aB-KO diabetic","c":"diabetic","w":2,"v":616,"e":20},{"pn":"D","s":"aB-KO diabetic","c":"diabetic","w":4,"v":568,"e":15},{"pn":"D","s":"aB-KO diabetic","c":"diabetic","w":6,"v":577,"e":20},{"pn":"D","s":"aB-KO diabetic","c":"diabetic","w":8,"v":548,"e":15},
{"pn":"E","s":"wild-type control","c":"control","w":2,"v":231,"e":5},{"pn":"E","s":"wild-type control","c":"control","w":4,"v":234,"e":5},{"pn":"E","s":"wild-type control","c":"control","w":6,"v":227,"e":5},{"pn":"E","s":"wild-type control","c":"control","w":8,"v":229,"e":5},
{"pn":"E","s":"wild-type diabetic","c":"diabetic","w":2,"v":221,"e":5},{"pn":"E","s":"wild-type diabetic","c":"diabetic","w":4,"v":224,"e":5},{"pn":"E","s":"wild-type diabetic","c":"diabetic","w":6,"v":209,"e":5},{"pn":"E","s":"wild-type diabetic","c":"diabetic","w":8,"v":221,"e":5},
{"pn":"E","s":"aA-KO control","c":"control","w":2,"v":250,"e":7},{"pn":"E","s":"aA-KO control","c":"control","w":4,"v":241,"e":5},{"pn":"E","s":"aA-KO control","c":"control","w":6,"v":248,"e":6},{"pn":"E","s":"aA-KO control","c":"control","w":8,"v":237,"e":10},
{"pn":"E","s":"aA-KO diabetic","c":"diabetic","w":2,"v":215,"e":6},{"pn":"E","s":"aA-KO diabetic","c":"diabetic","w":4,"v":218,"e":6},{"pn":"E","s":"aA-KO diabetic","c":"diabetic","w":6,"v":214,"e":5},{"pn":"E","s":"aA-KO diabetic","c":"diabetic","w":8,"v":226,"e":6},
{"pn":"E","s":"aB-KO control","c":"control","w":2,"v":227,"e":5},{"pn":"E","s":"aB-KO control","c":"control","w":4,"v":231,"e":5},{"pn":"E","s":"aB-KO control","c":"control","w":6,"v":231,"e":5},{"pn":"E","s":"aB-KO control","c":"control","w":8,"v":221,"e":5},
{"pn":"E","s":"aB-KO diabetic","c":"diabetic","w":2,"v":206,"e":8},{"pn":"E","s":"aB-KO diabetic","c":"diabetic","w":4,"v":204,"e":5},{"pn":"E","s":"aB-KO diabetic","c":"diabetic","w":6,"v":208,"e":5},{"pn":"E","s":"aB-KO diabetic","c":"diabetic","w":8,"v":199,"e":5}
],
"dAnn":[
{"w":2,"v":648,"t":"*#"},{"w":4,"v":660,"t":"*"},{"w":4,"v":598,"t":"*#"},{"w":6,"v":632,"t":"*"},{"w":8,"v":645,"t":"*"},{"w":8,"v":575,"t":"*"}
]
},
"spacing":5,
"resolve":{"scale":{"color":"independent","shape":"independent","fill":"independent","stroke":"independent","size":"independent","xOffset":"independent"}},
"vconcat":[
{
"title":{"text":"A","anchor":"start","frame":"group","dx":-52,"offset":-11,"fontSize":14,"fontWeight":"bold"},
"bounds":"flush","spacing":66,
"resolve":{"scale":{"color":"independent","shape":"independent","fill":"independent","stroke":"independent","size":"independent","xOffset":"independent"}},
"hconcat":[
{
"width":168,"height":116,
"title":{"text":"4 weeks of diabetes","fontSize":10,"fontWeight":"bold","offset":-8,"dx":-8},
"encoding":{"x":{"field":"g","type":"nominal","scale":{"domain":["WT","WT D","Ko-CryAA","Ko-CryAA D","Ko-CryAB","Ko-CryAB D","Ko-CryAA/AB","Ko-CryAA/AB D"],"paddingInner":0,"paddingOuter":0},"axis":{"title":null,"labelAngle":-45,"labelFontSize":8,"labelOverlap":false,"domainWidth":1.5,"tickWidth":1.5,"tickSize":4}}},
"layer":[
{"data":{"name":"aBars"},"transform":[{"filter":"datum.p=='4'"}],"mark":{"type":"bar","fill":"white","stroke":"black","strokeWidth":1.5,"width":{"band":0.72}},"encoding":{"y":{"field":"m","type":"quantitative","scale":{"domain":[0,500],"nice":false},"axis":{"title":"Cell death rate relative to control (%)","values":[0,100,200,300,400,500],"tickCount":10,"labelOverlap":false,"titleFontSize":10,"titleY":71,"titlePadding":11,"labelFontSize":8.5,"domainWidth":1.5,"tickWidth":1.5,"tickSize":4}}}},
{"data":{"name":"aBars"},"transform":[{"filter":"datum.p=='4'"}],"mark":{"type":"errorbar","ticks":true,"size":9,"thickness":1.5,"color":"black"},"encoding":{"y":{"field":"m","type":"quantitative","title":"Cell death rate relative to control (%)","axis":{"title":"Cell death rate relative to control (%)","values":[0,100,200,300,400,500],"tickCount":10,"labelOverlap":false,"titleFontSize":10,"titleY":71,"titlePadding":11,"labelFontSize":8.5,"domainWidth":1.5,"tickWidth":1.5,"tickSize":4}},"yError":{"field":"s"}}},
{"data":{"name":"aPts"},"transform":[{"filter":"datum.p=='4'"},{"calculate":"floor(datum.v/20)","as":"yb"},{"window":[{"op":"row_number","as":"r"}],"groupby":["g","yb"]},{"calculate":"datum.r%2==1?(datum.r-1)/2:-datum.r/2","as":"slot"}],"mark":{"type":"point","strokeWidth":0.9,"opacity":1,"stroke":"black"},"encoding":{"y":{"field":"v","type":"quantitative"},"xOffset":{"field":"slot","type":"quantitative","scale":{"domain":[-2.5,2.5]}},"shape":{"field":"g","type":"nominal","scale":{"domain":["WT","WT D","Ko-CryAA","Ko-CryAA D","Ko-CryAB","Ko-CryAB D","Ko-CryAA/AB","Ko-CryAA/AB D"],"range":["diamond","circle","square","triangle-down","diamond","circle","M0,-1L0.24,-0.33L0.95,-0.31L0.39,0.13L0.59,0.81L0,0.4L-0.59,0.81L-0.39,0.13L-0.95,-0.31L-0.24,-0.33Z","M-1,0H1M0,-1V1"]},"legend":null},"fill":{"field":"g","type":"nominal","scale":{"domain":["WT","WT D","Ko-CryAA","Ko-CryAA D","Ko-CryAB","Ko-CryAB D","Ko-CryAA/AB","Ko-CryAA/AB D"],"range":["black","white","white","white","white","black","black","white"]},"legend":null},"size":{"value":28}}},
{"data":{"name":"aBr"},"transform":[{"filter":"datum.p=='4'"}],"mark":{"type":"rule","color":"black","strokeWidth":1},"encoding":{"x":{"field":"a","type":"nominal"},"x2":{"field":"b"},"y":{"field":"y","type":"quantitative"}}},
{"data":{"name":"aBr"},"transform":[{"filter":"datum.p=='4'"}],"mark":{"type":"rule","color":"black","strokeWidth":1},"encoding":{"x":{"field":"a","type":"nominal"},"y":{"field":"y","type":"quantitative"},"y2":{"field":"yl"}}},
{"data":{"name":"aBr"},"transform":[{"filter":"datum.p=='4'"}],"mark":{"type":"rule","color":"black","strokeWidth":1},"encoding":{"x":{"field":"b","type":"nominal"},"y":{"field":"y","type":"quantitative"},"y2":{"field":"yl"}}},
{"data":{"name":"aBr"},"transform":[{"filter":"datum.p=='4' && datum.e==1"}],"mark":{"type":"text","color":"black","fontSize":10,"baseline":"alphabetic","dy":4},"encoding":{"x":{"field":"m","type":"nominal","bandPosition":1},"y":{"field":"y","type":"quantitative"},"text":{"field":"t"}}}
]
},
{
"width":176,"height":116,
"title":{"text":"8 weeks of diabetes","fontSize":10,"fontWeight":"bold","offset":-8,"dx":-6},
"encoding":{"x":{"field":"g","type":"nominal","scale":{"domain":["WT","WT D","Ko-CryAA","Ko-CryAA D","Ko-CryAB","Ko-CryAB D","Ko-CryAA/AB","Ko-CryAA/AB D"],"paddingInner":0,"paddingOuter":0},"axis":{"title":null,"labelAngle":-45,"labelFontSize":8,"labelOverlap":false,"domainWidth":1.5,"tickWidth":1.5,"tickSize":4}}},
"layer":[
{"data":{"name":"aBars"},"transform":[{"filter":"datum.p=='8'"}],"mark":{"type":"bar","fill":"white","stroke":"black","strokeWidth":1.5,"width":{"band":0.72}},"encoding":{"y":{"field":"m","type":"quantitative","scale":{"domain":[0,400],"nice":false},"axis":{"title":"Cell death rate relative to control (%)","values":[0,100,200,300,400],"tickCount":10,"labelOverlap":false,"titleFontSize":10,"titleY":71,"titlePadding":12,"labelFontSize":8.5,"domainWidth":1.5,"tickWidth":1.5,"tickSize":4}}}},
{"data":{"name":"aBars"},"transform":[{"filter":"datum.p=='8'"}],"mark":{"type":"errorbar","ticks":true,"size":9,"thickness":1.5,"color":"black"},"encoding":{"y":{"field":"m","type":"quantitative","title":"Cell death rate relative to control (%)","axis":{"title":"Cell death rate relative to control (%)","values":[0,100,200,300,400],"tickCount":10,"labelOverlap":false,"titleFontSize":10,"titleY":71,"titlePadding":12,"labelFontSize":8.5,"domainWidth":1.5,"tickWidth":1.5,"tickSize":4}},"yError":{"field":"s"}}},
{"data":{"name":"aPts"},"transform":[{"filter":"datum.p=='8'"},{"calculate":"floor(datum.v/15)","as":"yb"},{"window":[{"op":"row_number","as":"r"}],"groupby":["g","yb"]},{"calculate":"datum.r%2==1?(datum.r-1)/2:-datum.r/2","as":"slot"}],"mark":{"type":"point","strokeWidth":0.9,"opacity":1,"stroke":"black"},"encoding":{"y":{"field":"v","type":"quantitative"},"xOffset":{"field":"slot","type":"quantitative","scale":{"domain":[-3,3]}},"shape":{"field":"g","type":"nominal","scale":{"domain":["WT","WT D","Ko-CryAA","Ko-CryAA D","Ko-CryAB","Ko-CryAB D","Ko-CryAA/AB","Ko-CryAA/AB D"],"range":["diamond","circle","square","triangle-down","diamond","circle","M0,-1L0.24,-0.33L0.95,-0.31L0.39,0.13L0.59,0.81L0,0.4L-0.59,0.81L-0.39,0.13L-0.95,-0.31L-0.24,-0.33Z","M-1,0H1M0,-1V1"]},"legend":null},"fill":{"field":"g","type":"nominal","scale":{"domain":["WT","WT D","Ko-CryAA","Ko-CryAA D","Ko-CryAB","Ko-CryAB D","Ko-CryAA/AB","Ko-CryAA/AB D"],"range":["black","white","white","white","white","black","black","white"]},"legend":null},"size":{"value":22}}},
{"data":{"name":"aBr"},"transform":[{"filter":"datum.p=='8'"}],"mark":{"type":"rule","color":"black","strokeWidth":1},"encoding":{"x":{"field":"a","type":"nominal"},"x2":{"field":"b"},"y":{"field":"y","type":"quantitative"}}},
{"data":{"name":"aBr"},"transform":[{"filter":"datum.p=='8'"}],"mark":{"type":"rule","color":"black","strokeWidth":1},"encoding":{"x":{"field":"a","type":"nominal"},"y":{"field":"y","type":"quantitative"},"y2":{"field":"yl"}}},
{"data":{"name":"aBr"},"transform":[{"filter":"datum.p=='8'"}],"mark":{"type":"rule","color":"black","strokeWidth":1},"encoding":{"x":{"field":"b","type":"nominal"},"y":{"field":"y","type":"quantitative"},"y2":{"field":"yl"}}},
{"data":{"name":"aBr"},"transform":[{"filter":"datum.p=='8' && datum.e==1"}],"mark":{"type":"text","color":"black","fontSize":10,"baseline":"alphabetic","dy":4},"encoding":{"x":{"field":"m","type":"nominal","bandPosition":1},"y":{"field":"y","type":"quantitative"},"text":{"field":"t"}}},
{"data":{"name":"aBr"},"transform":[{"filter":"datum.p=='8' && datum.e==0"}],"mark":{"type":"text","color":"black","fontSize":9,"baseline":"alphabetic","dy":-1},"encoding":{"x":{"field":"m","type":"nominal"},"y":{"field":"y","type":"quantitative"},"text":{"field":"t"}}}
]
},
{
"width":173,"height":116,
"title":{"text":"12 weeks of diabetes","fontSize":10,"fontWeight":"bold","offset":-8,"dx":-7},
"encoding":{"x":{"field":"g","type":"nominal","scale":{"domain":["WT","WT D","Ko-CryAA","Ko-CryAA D","Ko-CryAB","Ko-CryAB D","Ko-CryAA/AB","Ko-CryAA/AB D"],"paddingInner":0,"paddingOuter":0},"axis":{"title":null,"labelAngle":-45,"labelFontSize":8,"labelOverlap":false,"domainWidth":1.5,"tickWidth":1.5,"tickSize":4}}},
"layer":[
{"data":{"name":"aBars"},"transform":[{"filter":"datum.p=='12'"}],"mark":{"type":"bar","fill":"white","stroke":"black","strokeWidth":1.5,"width":{"band":0.72}},"encoding":{"y":{"field":"m","type":"quantitative","scale":{"domain":[0,400],"nice":false},"axis":{"title":"Cell death rate relative to control (%)","values":[0,100,200,300,400],"tickCount":10,"labelOverlap":false,"titleFontSize":10,"titleY":71,"titlePadding":12,"labelFontSize":8.5,"domainWidth":1.5,"tickWidth":1.5,"tickSize":4}}}},
{"data":{"name":"aBars"},"transform":[{"filter":"datum.p=='12'"}],"mark":{"type":"errorbar","ticks":true,"size":9,"thickness":1.5,"color":"black"},"encoding":{"y":{"field":"m","type":"quantitative","title":"Cell death rate relative to control (%)","axis":{"title":"Cell death rate relative to control (%)","values":[0,100,200,300,400],"tickCount":10,"labelOverlap":false,"titleFontSize":10,"titleY":71,"titlePadding":12,"labelFontSize":8.5,"domainWidth":1.5,"tickWidth":1.5,"tickSize":4}},"yError":{"field":"s"}}},
{"data":{"name":"aPts"},"transform":[{"filter":"datum.p=='12'"},{"calculate":"floor(datum.v/12)","as":"yb"},{"window":[{"op":"row_number","as":"r"}],"groupby":["g","yb"]},{"calculate":"datum.r%2==1?(datum.r-1)/2:-datum.r/2","as":"slot"}],"mark":{"type":"point","strokeWidth":0.9,"opacity":1,"stroke":"black"},"encoding":{"y":{"field":"v","type":"quantitative"},"xOffset":{"field":"slot","type":"quantitative","scale":{"domain":[-3.5,3.5]}},"shape":{"field":"g","type":"nominal","scale":{"domain":["WT","WT D","Ko-CryAA","Ko-CryAA D","Ko-CryAB","Ko-CryAB D","Ko-CryAA/AB","Ko-CryAA/AB D"],"range":["diamond","circle","square","triangle-down","diamond","circle","M0,-1L0.24,-0.33L0.95,-0.31L0.39,0.13L0.59,0.81L0,0.4L-0.59,0.81L-0.39,0.13L-0.95,-0.31L-0.24,-0.33Z","M-1,0H1M0,-1V1"]},"legend":null},"fill":{"field":"g","type":"nominal","scale":{"domain":["WT","WT D","Ko-CryAA","Ko-CryAA D","Ko-CryAB","Ko-CryAB D","Ko-CryAA/AB","Ko-CryAA/AB D"],"range":["black","white","white","white","white","black","black","white"]},"legend":null},"size":{"value":18}}},
{"data":{"name":"aBr"},"transform":[{"filter":"datum.p=='12'"}],"mark":{"type":"rule","color":"black","strokeWidth":1},"encoding":{"x":{"field":"a","type":"nominal"},"x2":{"field":"b"},"y":{"field":"y","type":"quantitative"}}},
{"data":{"name":"aBr"},"transform":[{"filter":"datum.p=='12'"}],"mark":{"type":"rule","color":"black","strokeWidth":1},"encoding":{"x":{"field":"a","type":"nominal"},"y":{"field":"y","type":"quantitative"},"y2":{"field":"yl"}}},
{"data":{"name":"aBr"},"transform":[{"filter":"datum.p=='12'"}],"mark":{"type":"rule","color":"black","strokeWidth":1},"encoding":{"x":{"field":"b","type":"nominal"},"y":{"field":"y","type":"quantitative"},"y2":{"field":"yl"}}},
{"data":{"name":"aBr"},"transform":[{"filter":"datum.p=='12' && datum.e==1"}],"mark":{"type":"text","color":"black","fontSize":10,"baseline":"alphabetic","dy":4},"encoding":{"x":{"field":"m","type":"nominal","bandPosition":1},"y":{"field":"y","type":"quantitative"},"text":{"field":"t"}}},
{"data":{"name":"aBr"},"transform":[{"filter":"datum.p=='12' && datum.e==0"}],"mark":{"type":"text","color":"black","fontSize":9,"baseline":"alphabetic","dy":-1},"encoding":{"x":{"field":"m","type":"nominal"},"y":{"field":"y","type":"quantitative"},"text":{"field":"t"}}}
]
}
]
},
{
"spacing":10,
"resolve":{"scale":{"color":"independent","shape":"independent","fill":"independent","stroke":"independent","size":"independent","xOffset":"independent"}},
"vconcat":[
{
"bounds":"flush","spacing":116,
"resolve":{"scale":{"color":"independent","shape":"independent","fill":"independent","stroke":"independent","size":"independent","xOffset":"independent"}},
"hconcat":[
{
"width":238,"height":163,
"title":{"text":"B","anchor":"start","frame":"group","dx":-52,"offset":-12,"fontSize":14,"fontWeight":"bold"},
"encoding":{"x":{"field":"g","type":"nominal","scale":{"domain":["WT","WT D","Ko-CryAA","Ko-CryAA D","Ko-CryAB","Ko-CryAB D"],"paddingInner":0,"paddingOuter":0},"axis":{"title":null,"labelAngle":-45,"labelFontSize":8.5,"labelFontWeight":"bold","labelOverlap":false,"domainWidth":1.5,"tickWidth":1.5,"tickSize":4}}},
"layer":[
{"data":{"name":"bcPts"},"transform":[{"filter":"datum.p=='B'"},{"calculate":"floor(datum.v/0.002)","as":"yb"},{"window":[{"op":"row_number","as":"r"}],"groupby":["g","yb"]},{"calculate":"datum.r%2==1?(datum.r-1)/2:-datum.r/2","as":"slot"}],"mark":{"type":"point","strokeWidth":0.7,"opacity":1,"stroke":"black"},"encoding":{"y":{"field":"v","type":"quantitative","scale":{"domain":[0.16,0.28],"nice":false,"zero":false},"axis":{"title":"whole retina thickness (mm)","values":[0.16,0.18,0.2,0.22,0.24,0.26,0.28],"tickCount":10,"labelOverlap":false,"format":".2f","titleFontSize":8.5,"titlePadding":2,"labelFontSize":8,"labelFontWeight":"bold","domainWidth":1.5,"tickWidth":1.5,"tickSize":4}},"xOffset":{"field":"slot","type":"quantitative","scale":{"domain":[-6,6]}},"shape":{"field":"g","type":"nominal","scale":{"domain":["WT","WT D","Ko-CryAA","Ko-CryAA D","Ko-CryAB","Ko-CryAB D"],"range":["cross","circle","square","square","triangle-up","triangle-up"]},"legend":null},"fill":{"field":"g","type":"nominal","scale":{"domain":["WT","WT D","Ko-CryAA","Ko-CryAA D","Ko-CryAB","Ko-CryAB D"],"range":["black","white","black","white","black","white"]},"legend":null},"size":{"value":10}}},
{"data":{"name":"bcMean"},"transform":[{"filter":"datum.p=='B'"}],"mark":{"type":"tick","size":24,"thickness":1.5,"color":"black"},"encoding":{"y":{"field":"m","type":"quantitative"}}},
{"data":{"name":"bcBr"},"transform":[{"filter":"datum.p=='B'"}],"mark":{"type":"rule","color":"black","strokeWidth":1},"encoding":{"x":{"field":"a","type":"nominal"},"x2":{"field":"b"},"y":{"field":"y","type":"quantitative"}}},
{"data":{"name":"bcBr"},"transform":[{"filter":"datum.p=='B'"}],"mark":{"type":"rule","color":"black","strokeWidth":1},"encoding":{"x":{"field":"a","type":"nominal"},"y":{"field":"y","type":"quantitative"},"y2":{"field":"yl"}}},
{"data":{"name":"bcBr"},"transform":[{"filter":"datum.p=='B'"}],"mark":{"type":"rule","color":"black","strokeWidth":1},"encoding":{"x":{"field":"b","type":"nominal"},"y":{"field":"y","type":"quantitative"},"y2":{"field":"yl"}}},
{"data":{"name":"bcBr"},"transform":[{"filter":"datum.p=='B' && datum.t=='ns'"}],"mark":{"type":"text","color":"black","fontSize":7.5,"baseline":"alphabetic","dy":-3},"encoding":{"x":{"field":"m","type":"nominal","bandPosition":1},"y":{"field":"y","type":"quantitative"},"text":{"field":"t"}}},
{"data":{"name":"bcBr"},"transform":[{"filter":"datum.p=='B' && datum.t!='ns'"}],"mark":{"type":"text","color":"black","fontSize":8,"baseline":"alphabetic","dy":1},"encoding":{"x":{"field":"m","type":"nominal","bandPosition":1},"y":{"field":"y","type":"quantitative"},"text":{"field":"t"}}}
]
},
{
"width":238,"height":163,
"title":{"text":"C","anchor":"start","frame":"group","dx":-47,"offset":-12,"fontSize":14,"fontWeight":"bold"},
"encoding":{"x":{"field":"g","type":"nominal","scale":{"domain":["WT","WT D","Ko-CryAA","Ko-CryAA D","Ko-CryAB","Ko-CryAB D"],"paddingInner":0,"paddingOuter":0},"axis":{"title":null,"labelAngle":-45,"labelFontSize":8.5,"labelFontWeight":"bold","labelOverlap":false,"domainWidth":1.5,"tickWidth":1.5,"tickSize":4}}},
"layer":[
{"data":{"name":"bcPts"},"transform":[{"filter":"datum.p=='C'"},{"calculate":"floor(datum.v/0.012)","as":"yb"},{"window":[{"op":"row_number","as":"r"}],"groupby":["g","yb"]},{"calculate":"datum.r%2==1?(datum.r-1)/2:-datum.r/2","as":"slot"}],"mark":{"type":"point","strokeWidth":0.7,"opacity":1,"stroke":"black"},"encoding":{"y":{"field":"v","type":"quantitative","scale":{"domain":[0,0.4],"nice":false},"axis":{"title":"whole retina thickness (mm)","values":[0,0.1,0.2,0.3,0.4],"tickCount":10,"labelOverlap":false,"format":".1f","titleFontSize":8.5,"titlePadding":2,"labelFontSize":8.5,"labelFontWeight":"bold","domainWidth":1.5,"tickWidth":1.5,"tickSize":4}},"xOffset":{"field":"slot","type":"quantitative","scale":{"domain":[-6,6]}},"shape":{"field":"g","type":"nominal","scale":{"domain":["WT","WT D","Ko-CryAA","Ko-CryAA D","Ko-CryAB","Ko-CryAB D"],"range":["cross","circle","square","square","triangle-up","triangle-up"]},"legend":null},"fill":{"field":"g","type":"nominal","scale":{"domain":["WT","WT D","Ko-CryAA","Ko-CryAA D","Ko-CryAB","Ko-CryAB D"],"range":["black","white","black","white","black","white"]},"legend":null},"size":{"value":13}}},
{"data":{"name":"bcMean"},"transform":[{"filter":"datum.p=='C'"}],"mark":{"type":"tick","size":24,"thickness":1.5,"color":"black"},"encoding":{"y":{"field":"m","type":"quantitative"}}},
{"data":{"name":"bcBr"},"transform":[{"filter":"datum.p=='C'"}],"mark":{"type":"rule","color":"black","strokeWidth":1},"encoding":{"x":{"field":"a","type":"nominal"},"x2":{"field":"b"},"y":{"field":"y","type":"quantitative"}}},
{"data":{"name":"bcBr"},"transform":[{"filter":"datum.p=='C'"}],"mark":{"type":"rule","color":"black","strokeWidth":1},"encoding":{"x":{"field":"a","type":"nominal"},"y":{"field":"y","type":"quantitative"},"y2":{"field":"yl"}}},
{"data":{"name":"bcBr"},"transform":[{"filter":"datum.p=='C'"}],"mark":{"type":"rule","color":"black","strokeWidth":1},"encoding":{"x":{"field":"b","type":"nominal"},"y":{"field":"y","type":"quantitative"},"y2":{"field":"yl"}}},
{"data":{"name":"bcBr"},"transform":[{"filter":"datum.p=='C' && datum.t=='ns'"}],"mark":{"type":"text","color":"black","fontSize":7.5,"baseline":"alphabetic","dy":-3},"encoding":{"x":{"field":"m","type":"nominal","bandPosition":1},"y":{"field":"y","type":"quantitative"},"text":{"field":"t"}}},
{"data":{"name":"bcBr"},"transform":[{"filter":"datum.p=='C' && datum.t!='ns' && datum.e==1"}],"mark":{"type":"text","color":"black","fontSize":8,"baseline":"alphabetic","dy":1},"encoding":{"x":{"field":"m","type":"nominal","bandPosition":1},"y":{"field":"y","type":"quantitative"},"text":{"field":"t"}}},
{"data":{"name":"bcBr"},"transform":[{"filter":"datum.p=='C' && datum.e==0"}],"mark":{"type":"text","color":"black","fontSize":8,"baseline":"alphabetic","dy":1},"encoding":{"x":{"field":"m","type":"nominal"},"y":{"field":"y","type":"quantitative"},"text":{"field":"t"}}}
]
}
]
},
{
"bounds":"flush","spacing":60,
"resolve":{"scale":{"color":"independent","shape":"independent","fill":"independent","stroke":"independent","size":"independent","xOffset":"independent"}},
"hconcat":[
{
"width":290,"height":152,
"title":{"text":"D","anchor":"start","frame":"group","dx":-52,"offset":-12,"fontSize":14,"fontWeight":"bold"},
"encoding":{"x":{"field":"w","type":"ordinal","scale":{"paddingInner":0,"paddingOuter":0},"axis":{"title":"Diabetes duration (weeks)","tickBand":"extent","labelAngle":0,"labelFontSize":8.5,"labelFontWeight":"bold","titleFontSize":8.5,"labelPadding":2,"titlePadding":1,"domainWidth":1,"tickSize":4}}},
"layer":[
{"data":{"name":"erg"},"transform":[{"filter":"datum.pn=='D' && datum.c=='control'"}],"mark":{"type":"line","strokeWidth":2,"color":"black"},"encoding":{"y":{"field":"v","type":"quantitative","scale":{"domain":[300,900],"nice":false,"zero":false},"axis":{"title":"Amplitude of scotopic B-wave (mV)","values":[300,400,500,600,700,800,900],"tickCount":10,"labelOverlap":false,"labelFontSize":8.5,"labelFontWeight":"bold","titleFontSize":8,"titlePadding":3,"domainWidth":1,"tickSize":4}},"detail":{"field":"s","type":"nominal"}}},
{"data":{"name":"erg"},"transform":[{"filter":"datum.pn=='D' && datum.c=='diabetic'"}],"mark":{"type":"line","strokeWidth":2,"color":"#c6c6c6"},"encoding":{"y":{"field":"v","type":"quantitative"},"detail":{"field":"s","type":"nominal"}}},
{"data":{"name":"erg"},"transform":[{"filter":"datum.pn=='D' && datum.c=='control'"}],"mark":{"type":"errorbar","ticks":true,"size":5,"thickness":1,"color":"black"},"encoding":{"y":{"field":"v","type":"quantitative","title":"Amplitude of scotopic B-wave (mV)","axis":{"title":"Amplitude of scotopic B-wave (mV)","values":[300,400,500,600,700,800,900],"tickCount":10,"labelOverlap":false,"labelFontSize":8.5,"labelFontWeight":"bold","titleFontSize":8,"titlePadding":3,"domainWidth":1,"tickSize":4}},"yError":{"field":"e"}}},
{"data":{"name":"erg"},"transform":[{"filter":"datum.pn=='D' && datum.c=='diabetic'"}],"mark":{"type":"errorbar","ticks":true,"size":5,"thickness":1,"color":"#c6c6c6"},"encoding":{"y":{"field":"v","type":"quantitative","title":"Amplitude of scotopic B-wave (mV)","axis":{"title":"Amplitude of scotopic B-wave (mV)","values":[300,400,500,600,700,800,900],"tickCount":10,"labelOverlap":false,"labelFontSize":8.5,"labelFontWeight":"bold","titleFontSize":8,"titlePadding":3,"domainWidth":1,"tickSize":4}},"yError":{"field":"e"}}},
{"data":{"name":"erg"},"transform":[{"filter":"datum.pn=='D'"}],"mark":{"type":"point","filled":true,"opacity":1,"size":45},"encoding":{"y":{"field":"v","type":"quantitative"},"color":{"field":"s","type":"nominal","scale":{"domain":["wild-type control","wild-type diabetic","aA-KO control","aA-KO diabetic","aB-KO control","aB-KO diabetic"],"range":["#000000","#c6c6c6","#000000","#c6c6c6","#000000","#c6c6c6"]},"legend":null},"shape":{"field":"s","type":"nominal","scale":{"domain":["wild-type control","wild-type diabetic","aA-KO control","aA-KO diabetic","aB-KO control","aB-KO diabetic"],"range":["square","square","cross","cross","circle","circle"]},"legend":null}}},
{"data":{"name":"dAnn"},"mark":{"type":"text","color":"black","fontSize":9,"fontWeight":"bold","baseline":"middle","dy":2},"encoding":{"x":{"field":"w","type":"ordinal"},"y":{"field":"v","type":"quantitative"},"text":{"field":"t"}}}
]
},
{
"width":290,"height":152,
"title":{"text":"E","anchor":"start","frame":"group","dx":-47,"offset":-12,"fontSize":14,"fontWeight":"bold"},
"encoding":{"x":{"field":"w","type":"ordinal","scale":{"paddingInner":0,"paddingOuter":0},"axis":{"title":"Diabetes duration (weeks)","tickBand":"extent","labelAngle":0,"labelFontSize":8.5,"labelFontWeight":"bold","titleFontSize":8.5,"labelPadding":2,"titlePadding":1,"domainWidth":1,"tickSize":4}}},
"layer":[
{"data":{"name":"erg"},"transform":[{"filter":"datum.pn=='E' && datum.c=='control'"}],"mark":{"type":"line","strokeWidth":2,"color":"black"},"encoding":{"y":{"field":"v","type":"quantitative","scale":{"domain":[0,300],"nice":false},"axis":{"title":"Amplitude of photopic B-wave (mV)","values":[0,50,100,150,200,250,300],"tickCount":10,"labelOverlap":false,"labelFontSize":8.5,"labelFontWeight":"bold","titleFontSize":8,"titlePadding":3,"domainWidth":1,"tickSize":4}},"detail":{"field":"s","type":"nominal"}}},
{"data":{"name":"erg"},"transform":[{"filter":"datum.pn=='E' && datum.c=='diabetic'"}],"mark":{"type":"line","strokeWidth":2,"color":"#c6c6c6"},"encoding":{"y":{"field":"v","type":"quantitative"},"detail":{"field":"s","type":"nominal"}}},
{"data":{"name":"erg"},"transform":[{"filter":"datum.pn=='E' && datum.c=='control'"}],"mark":{"type":"errorbar","ticks":true,"size":5,"thickness":1,"color":"black"},"encoding":{"y":{"field":"v","type":"quantitative","title":"Amplitude of photopic B-wave (mV)","axis":{"title":"Amplitude of photopic B-wave (mV)","values":[0,50,100,150,200,250,300],"tickCount":10,"labelOverlap":false,"labelFontSize":8.5,"labelFontWeight":"bold","titleFontSize":8,"titlePadding":3,"domainWidth":1,"tickSize":4}},"yError":{"field":"e"}}},
{"data":{"name":"erg"},"transform":[{"filter":"datum.pn=='E' && datum.c=='diabetic'"}],"mark":{"type":"errorbar","ticks":true,"size":5,"thickness":1,"color":"#c6c6c6"},"encoding":{"y":{"field":"v","type":"quantitative","title":"Amplitude of photopic B-wave (mV)","axis":{"title":"Amplitude of photopic B-wave (mV)","values":[0,50,100,150,200,250,300],"tickCount":10,"labelOverlap":false,"labelFontSize":8.5,"labelFontWeight":"bold","titleFontSize":8,"titlePadding":3,"domainWidth":1,"tickSize":4}},"yError":{"field":"e"}}},
{"data":{"name":"erg"},"transform":[{"filter":"datum.pn=='E'"}],"mark":{"type":"point","filled":true,"opacity":1,"size":45},"encoding":{"y":{"field":"v","type":"quantitative"},"color":{"field":"s","type":"nominal","scale":{"domain":["wild-type control","wild-type diabetic","aA-KO control","aA-KO diabetic","aB-KO control","aB-KO diabetic"],"range":["#000000","#c6c6c6","#000000","#c6c6c6","#000000","#c6c6c6"]},"legend":{"title":null,"orient":"none","legendX":133,"legendY":101,"direction":"horizontal","columns":2,"labelFontSize":8.5,"labelFontWeight":"bold","symbolSize":40,"columnPadding":2,"rowPadding":5,"labelLimit":200}},"shape":{"field":"s","type":"nominal","scale":{"domain":["wild-type control","wild-type diabetic","aA-KO control","aA-KO diabetic","aB-KO control","aB-KO diabetic"],"range":["square","square","cross","cross","circle","circle"]},"legend":{"title":null,"orient":"none","legendX":133,"legendY":101,"direction":"horizontal","columns":2,"labelFontSize":8.5,"labelFontWeight":"bold","symbolSize":40,"columnPadding":2,"rowPadding":5,"labelLimit":200}}}}
]
}
]
}
]
}
]
}
